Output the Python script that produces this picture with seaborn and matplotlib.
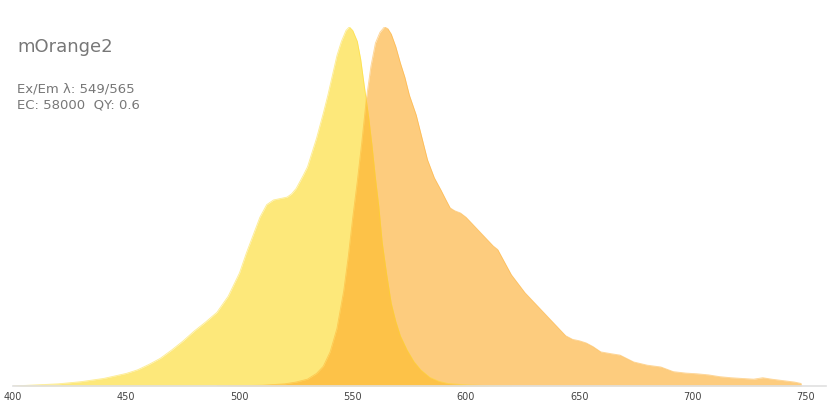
import matplotlib
matplotlib.use("Agg")
import matplotlib.pyplot as plt
import seaborn as sns
import pandas as pd

# excitation spectrum (normalised)
ex_nm = [400, 410, 420, 430, 440, 450, 455, 460, 465, 470, 475, 480, 485, 490, 495,
         500, 503, 506, 509, 512, 515, 518, 521, 523, 525, 528, 530, 532, 534, 537,
         539, 541, 543, 545, 547, 548.5, 550, 552, 553.5, 555, 557, 558.5, 560, 561.5,
         563, 565, 567, 569, 571, 574, 577, 580, 584, 588, 592, 600, 610, 620]
ex_val = [0.0, 0.003, 0.006, 0.012, 0.021, 0.035, 0.045, 0.06, 0.077, 0.1, 0.125, 0.153,
          0.178, 0.205, 0.25, 0.315, 0.37, 0.42, 0.47, 0.505, 0.518, 0.522, 0.526, 0.535,
          0.55, 0.585, 0.61, 0.65, 0.69, 0.76, 0.81, 0.865, 0.92, 0.96, 0.99, 1.0, 0.99,
          0.96, 0.91, 0.84, 0.75, 0.67, 0.58, 0.5, 0.4, 0.31, 0.23, 0.18, 0.14, 0.1, 0.068,
          0.045, 0.024, 0.013, 0.007, 0.003, 0.001, 0.0]

# emission spectrum (normalised)
em_nm = [490, 500, 510, 515, 520, 525, 530, 534, 537, 540, 543, 546, 548, 550, 552,
         554, 556, 558, 560, 562, 564, 565.5, 567, 569, 571, 573, 575, 578, 580, 583,
         586, 589, 591, 593, 595, 597.5, 600, 603, 606, 609, 612, 614, 617, 620, 623,
         626, 629, 632, 635, 638, 641, 644, 647, 650, 653, 656, 659.5, 664, 668, 674,
         680, 686, 691.5, 697, 702, 707, 712, 717, 722, 727, 731, 735, 740, 745, 748]
em_val = [0.0, 0.001, 0.002, 0.004, 0.006, 0.011, 0.019, 0.035, 0.055, 0.095, 0.16,
          0.265, 0.36, 0.47, 0.57, 0.68, 0.8, 0.89, 0.955, 0.985, 1.0, 0.995, 0.98,
          0.945, 0.9, 0.86, 0.81, 0.755, 0.705, 0.63, 0.58, 0.545, 0.52, 0.496, 0.488,
          0.482, 0.47, 0.45, 0.43, 0.41, 0.39, 0.38, 0.345, 0.31, 0.285, 0.26, 0.24,
          0.22, 0.2, 0.18, 0.16, 0.14, 0.13, 0.126, 0.12, 0.11, 0.095, 0.09, 0.086,
          0.067, 0.058, 0.053, 0.04, 0.036, 0.034, 0.031, 0.026, 0.023, 0.021, 0.019,
          0.023, 0.019, 0.015, 0.011, 0.007]

ticks = [400, 450, 500, 550, 600, 650, 700, 750]

ex = pd.DataFrame({"nm": ex_nm, "val": ex_val})
em = pd.DataFrame({"nm": em_nm, "val": em_val})

sns.set_theme(style="white")
plt.rcParams['font.family'] = ['DejaVu Sans']

fig = plt.figure(figsize=(8.4, 4.2), dpi=100)
ax = fig.add_axes([0.0155, 0.081, 0.968, 0.855])

ex_col = "#fdda21"
em_col = "#fdaa28"
ax.fill_between(ex.nm, ex.val, color=ex_col, alpha=0.6, linewidth=0)
sns.lineplot(x="nm", y="val", data=ex, ax=ax, color=ex_col, alpha=0.5, linewidth=0.6)
ax.fill_between(em.nm, em.val, color=em_col, alpha=0.6, linewidth=0)
sns.lineplot(x="nm", y="val", data=em, ax=ax, color=em_col, alpha=0.5, linewidth=0.6)

ax.set_xlim(400, 759)
ax.set_ylim(0, 1.0)
ax.set_xticks(ticks)
ax.set_xticklabels([str(t) for t in ticks])
ax.tick_params(axis="x", labelsize=7, colors="#444444", length=0, pad=4)
ax.set_yticks([])
ax.set_xlabel("")
ax.set_ylabel("")
for s in ["top", "right", "left"]:
    ax.spines[s].set_visible(False)
ax.spines["bottom"].set_color("#e0e0e0")
ax.spines["bottom"].set_linewidth(1.2)

fig.text(17 / 840, 1 - 47 / 420, "mOrange2", fontsize=13, color="#777777", va="center")
fig.text(17 / 840, 1 - 89 / 420, "Ex/Em λ: 549/565", fontsize=9.5, color="#777777", va="center")
fig.text(17 / 840, 1 - 105 / 420, "EC: 58000  QY: 0.6", fontsize=9.5, color="#777777", va="center")

fig.savefig("out.png", dpi=100)
